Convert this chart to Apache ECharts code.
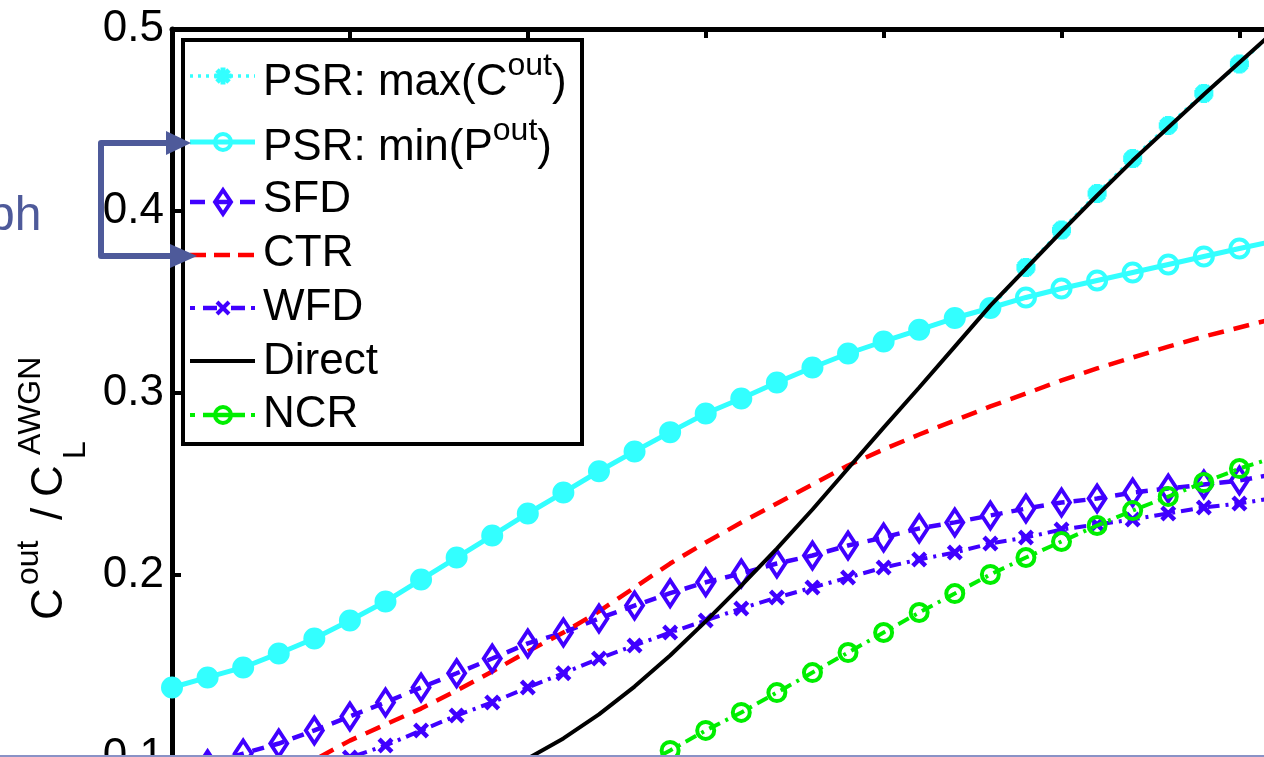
<!DOCTYPE html>
<html>
<head>
<meta charset="utf-8">
<script src="https://cdn.jsdelivr.net/npm/echarts@6/dist/echarts.min.js"></script>
<style>
html,body{margin:0;padding:0;overflow:hidden;background:#fff;width:1264px;height:757px}
#c{position:absolute;left:0;top:0;width:1400px;height:1000px}
</style>
</head>
<body>
<div id="c"></div>
<script>
// ---------------- data ----------------
const xVals = [0,1,2,3,4,5,6,7,8,9,10,11,12,13,14,15,16,17,18,19,20,21,22,23,24,25,26,27,28,29,30,31];
const psrMaxC = [0.1382,0.1437,0.1492,0.1569,0.1651,0.1750,0.1854,0.1975,0.2096,0.2217,0.2338,0.2453,0.2570,0.2679,0.2785,0.2887,0.2970,0.3058,0.3140,0.3217,0.3283,0.3347,0.3412,0.3467,0.3690,0.3895,0.4096,0.4288,0.4470,0.4646,0.4808,0.4992];
const psrMinP = [0.1382,0.1437,0.1492,0.1569,0.1651,0.1750,0.1854,0.1975,0.2096,0.2217,0.2338,0.2453,0.2570,0.2679,0.2785,0.2887,0.2970,0.3058,0.3140,0.3217,0.3283,0.3347,0.3412,0.3467,0.3525,0.3574,0.3618,0.3662,0.3706,0.3750,0.3794,0.3836];
const sfd = [0.0900,0.0960,0.1019,0.1074,0.1146,0.1223,0.1300,0.1382,0.1460,0.1541,0.1624,0.1684,0.1761,0.1832,0.1900,0.1960,0.2008,0.2063,0.2107,0.2162,0.2206,0.2256,0.2289,0.2327,0.2365,0.2398,0.2420,0.2453,0.2475,0.2497,0.2519,0.2555];
const ctr = [0.0720,0.0780,0.0840,0.0910,0.0984,0.1090,0.1179,0.1266,0.1365,0.1470,0.1580,0.1684,0.1800,0.1931,0.2063,0.2179,0.2288,0.2393,0.2497,0.2602,0.2690,0.2772,0.2849,0.2926,0.2997,0.3069,0.3135,0.3195,0.3255,0.3310,0.3360,0.3410];
const wfd = [0.0760,0.0800,0.0850,0.0900,0.0950,0.0997,0.1063,0.1146,0.1228,0.1300,0.1382,0.1460,0.1541,0.1613,0.1684,0.1750,0.1816,0.1876,0.1931,0.1986,0.2041,0.2085,0.2124,0.2173,0.2206,0.2250,0.2277,0.2305,0.2338,0.2371,0.2393,0.2424];
const direct = [0.0320,0.0350,0.0390,0.0440,0.0490,0.0550,0.0620,0.0700,0.0790,0.0890,0.0992,0.1102,0.1234,0.1387,0.1558,0.1745,0.1942,0.2145,0.2360,0.2585,0.2810,0.3030,0.3255,0.3480,0.3684,0.3887,0.4085,0.4277,0.4459,0.4640,0.4816,0.4992];
const ncr = [0.0200,0.0240,0.0290,0.0340,0.0400,0.0460,0.0520,0.0590,0.0660,0.0730,0.0780,0.0830,0.0880,0.0930,0.1036,0.1146,0.1245,0.1354,0.1464,0.1574,0.1684,0.1794,0.1898,0.2003,0.2096,0.2184,0.2272,0.2354,0.2431,0.2508,0.2585,0.2647];
const seriesNames = ['PSR: max(Cout)','PSR: min(Pout)','SFD','CTR','WFD','Direct','NCR'];
const yAxisRange = [0, 0.5];
const yTickStep = 0.1;
const xAxisRange = [0, 31];
const xTickStep = 5;

// ---------------- styling ----------------
const FONT = '"Liberation Sans", Arial, sans-serif';
const CYAN = '#33ffff', BLUE = '#4000ff', RED = '#ff0000', GREEN = '#00ee00', BLACK = '#000000';
const SLATE = '#4e5a9a';
const CLEAR = 'rgba(0,0,0,0)';
const ASTER = 'M-10,-3.5L10,-3.5L10,3.5L-10,3.5ZM-3.5,-10L3.5,-10L3.5,10L-3.5,10ZM-4.6,-9.54L9.54,4.6L4.6,9.54L-9.54,-4.6ZM4.6,-9.54L9.54,-4.6L-4.6,9.54L-9.54,4.6Z';
const XMARK = 'M-3,-5L5,3L3,5L-5,-3ZM3,-5L5,-3L-3,5L-5,3Z';
const MID = 0.3465; // baseline -> middle offset (em)

function pairs(ys){ return xVals.map((x,i)=>[x, ys[i]]); }
const mctx = document.createElement('canvas').getContext('2d');
function tw(t, size){ mctx.font = size + 'px "Liberation Sans"'; return mctx.measureText(t).width; }

const G = [];
function txt(t, x, base, size, fill, z){
  G.push({type:'text', x:x, y: base - MID*size, z: z||60, silent:true,
    style:{text:t, fontSize:size, fontFamily:FONT, fill:fill||'#000', align:'left', verticalAlign:'middle'}});
}
function ln(x1,y1,x2,y2,color,w,dash,z){
  G.push({type:'line', z:z||55, silent:true, shape:{x1:x1,y1:y1,x2:x2,y2:y2},
    style:{stroke:color, lineWidth:w, lineDash:dash||null}});
}
function seg(x0,x1,y,color,w,dash){ ln(x0,y,x1,y,color,w,dash,55); }

// legend box
G.push({type:'rect', z:50, silent:true, shape:{x:183,y:40,width:399,height:404}, style:{fill:'#fff', stroke:'#000', lineWidth:4}});
const lx0 = 190, lx1 = 255, mx = 223;
// row 1: max(C) - dotted with asterisk
seg(lx0,lx1,76,CYAN,3.5,[3,5]);
ln(mx-8.5,76,mx+8.5,76,CYAN,5,null,57); ln(mx,67.5,mx,84.5,CYAN,5,null,57);
ln(mx-6,70,mx+6,82,CYAN,5,null,57); ln(mx+6,70,mx-6,82,CYAN,5,null,57);
// row 2: min(P)
seg(lx0,lx1,142,CYAN,5);
G.push({type:'circle', z:57, silent:true, shape:{cx:mx, cy:142, r:8}, style:{fill:CLEAR, stroke:CYAN, lineWidth:4}});
// row 3: SFD
seg(lx0,lx1,202,BLUE,4.5,[15,10]);
G.push({type:'polygon', z:57, silent:true, shape:{points:[[mx,190],[mx+8,202],[mx,214],[mx-8,202]]}, style:{fill:CLEAR, stroke:BLUE, lineWidth:4}});
// row 4: CTR
seg(lx0,lx1,255,RED,4.5,[16,8]);
// row 5: WFD
seg(190,195,308,BLUE,4); seg(203,217,308,BLUE,4.5); seg(231,245,308,BLUE,4.5); seg(251,255,308,BLUE,4);
ln(mx-6,302,mx+6,314,BLUE,4,null,57); ln(mx+6,302,mx-6,314,BLUE,4,null,57);
// row 6: Direct
seg(lx0,lx1,361,BLACK,4);
// row 7: NCR
seg(190,195,415,GREEN,4); seg(203,245,415,GREEN,4.5); seg(251,255,415,GREEN,4);
G.push({type:'circle', z:57, silent:true, shape:{cx:mx, cy:415, r:8}, style:{fill:CLEAR, stroke:GREEN, lineWidth:4}});

// legend texts (with superscripts)
const legendRows = [
  {base:98,  parts:[['PSR: max(C',44,0],['out',32,-21],[')',44,0]]},
  {base:163, parts:[['PSR: min(P',44,0],['out',32,-21],[')',44,0]]},
  {base:215, parts:[['SFD',44,0]]},
  {base:269, parts:[['CTR',44,0]]},
  {base:323, parts:[['WFD',44,0]]},
  {base:377, parts:[['Direct',44,0]]},
  {base:430, parts:[['NCR',44,0]]}
];
legendRows.forEach(r=>{
  let x = 263;
  r.parts.forEach(p=>{ txt(p[0], x, r.base + p[2], p[1]); x += tw(p[0], p[1]); });
});

// y-axis title: C^out / C_L^AWGN (rotated)
function lt(t, lx, base, size){
  return {type:'text', x:lx, y: base - MID*size, silent:true,
    style:{text:t, fontSize:size, fontFamily:FONT, fill:'#000', align:'left', verticalAlign:'middle'}};
}
G.push({type:'group', x:65, y:620, rotation:Math.PI/2, z:60, children:[
  lt('C', 0, 0, 44),
  lt('out', 35, -25, 32),
  lt('/', 100, 0, 44),
  lt('C', 123, 0, 44),
  lt('L', 161, 22, 32),
  lt('AWGN', 165, -23, 32)
]});

// slide decorations: partial word, bracket arrow, bottom rule
txt('ph', -12, 233, 48, SLATE, 90);
G.push({type:'polyline', z:90, silent:true, shape:{points:[[170,143],[101,143],[101,256],[172,256]]},
  style:{stroke:SLATE, lineWidth:6, lineJoin:'round', fill:null}});
G.push({type:'polygon', z:91, silent:true, shape:{points:[[166,131],[191,143],[166,155]]}, style:{fill:SLATE}});
G.push({type:'polygon', z:91, silent:true, shape:{points:[[170,244],[197,256],[170,268]]}, style:{fill:SLATE}});
G.push({type:'line', z:95, silent:true, shape:{x1:0,y1:756,x2:1264,y2:756}, style:{stroke:'#8a92c6', lineWidth:2}});

// ---------------- chart ----------------
const axisLine = {show:true, onZero:false, lineStyle:{color:'#000', width:5}};
const axisTick = {show:true, inside:true, length:9, lineStyle:{color:'#000', width:4}};
const chart = echarts.init(document.getElementById('c'), null, {renderer:'canvas'});
chart.setOption({
  animation:false,
  backgroundColor:'#fff',
  grid:{left:172, top:29, width:1103, height:910, containLabel:false, outerBoundsMode:'none'},
  xAxis:[
    {type:'value', min:xAxisRange[0], max:xAxisRange[1], interval:xTickStep, position:'bottom',
     axisLine:axisLine, axisTick:axisTick, splitLine:{show:false},
     axisLabel:{fontSize:44, color:'#000', fontFamily:FONT}},
    {type:'value', min:xAxisRange[0], max:xAxisRange[1], interval:xTickStep, position:'top',
     axisLine:axisLine, axisTick:axisTick, splitLine:{show:false}, axisLabel:{show:false}}
  ],
  yAxis:[
    {type:'value', min:yAxisRange[0], max:yAxisRange[1], interval:yTickStep, position:'left',
     axisLine:axisLine, axisTick:axisTick, splitLine:{show:false},
     axisLabel:{fontSize:44, color:'#000', fontFamily:FONT, margin:8}},
    {type:'value', min:yAxisRange[0], max:yAxisRange[1], interval:yTickStep, position:'right',
     axisLine:axisLine, axisTick:axisTick, splitLine:{show:false}, axisLabel:{show:false}}
  ],
  series:[
    {name:seriesNames[1], type:'line', z:2, data:pairs(psrMinP), showAllSymbol:true,
     symbol:'circle', symbolSize:18, itemStyle:{color:CLEAR, borderColor:CYAN, borderWidth:4},
     lineStyle:{color:CYAN, width:5}, emphasis:{disabled:true}, silent:true},
    {name:seriesNames[0], type:'line', z:3, data:pairs(psrMaxC), showAllSymbol:true,
     symbol:'path://'+ASTER, symbolSize:19, itemStyle:{color:CYAN},
     lineStyle:{color:CYAN, width:3.5, type:[3,5]}, emphasis:{disabled:true}, silent:true},
    {name:seriesNames[2], type:'line', z:2, data:pairs(sfd), showAllSymbol:true,
     symbol:'diamond', symbolSize:[17,26], itemStyle:{color:CLEAR, borderColor:BLUE, borderWidth:4},
     lineStyle:{color:BLUE, width:4.5, type:[12,9]}, emphasis:{disabled:true}, silent:true},
    {name:seriesNames[3], type:'line', z:2, data:pairs(ctr), symbol:'none',
     lineStyle:{color:RED, width:4.5, type:[16,10]}, emphasis:{disabled:true}, silent:true},
    {name:seriesNames[4], type:'line', z:2, data:pairs(wfd), showAllSymbol:true,
     symbol:'path://'+XMARK, symbolSize:16, itemStyle:{color:BLUE},
     lineStyle:{color:BLUE, width:4, type:[12,6,3,6]}, emphasis:{disabled:true}, silent:true},
    {name:seriesNames[5], type:'line', z:4, data:pairs(direct), symbol:'none',
     lineStyle:{color:BLACK, width:4}, emphasis:{disabled:true}, silent:true},
    {name:seriesNames[6], type:'line', z:5, data:pairs(ncr), showAllSymbol:true,
     symbol:'circle', symbolSize:17, itemStyle:{color:CLEAR, borderColor:GREEN, borderWidth:4},
     lineStyle:{color:GREEN, width:4, type:[12,6,3,6]}, emphasis:{disabled:true}, silent:true}
  ],
  graphic:{elements:G}
});
</script>
</body>
</html>
